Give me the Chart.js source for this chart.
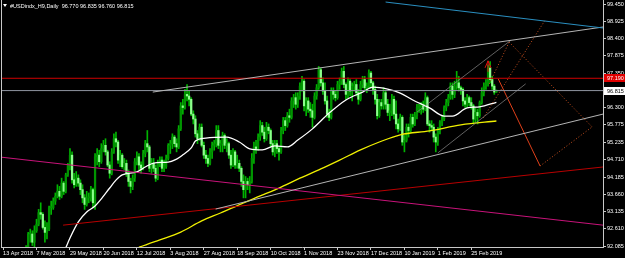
<!DOCTYPE html>
<html lang="en">
<head>
<meta charset="UTF-8">
<title>USDindx Daily</title>
<script src="https://cdn.jsdelivr.net/npm/chart.js"></script>
<style>
  html, body { margin: 0; padding: 0; background: #000; }
</style>
</head>
<body>
<canvas id="grafico" width="625" height="258"></canvas>
<script>
// first bar with data (13 Apr 2018 = bar 0); earlier bars sit below the visible range
const firstBar = 11;
const opens = [
  91.70, 92.05, 92.45, 92.45, 92.20, 92.55, 92.75, 93.10, 93.05, 92.65,
  92.50, 92.60, 93.25, 93.25, 93.45, 93.60, 93.75, 93.60, 94.00, 93.75,
  94.25, 94.55, 94.85, 94.10, 93.95, 94.15, 94.00, 93.80, 93.55, 93.35,
  93.55, 93.55, 93.80, 93.40, 94.80, 94.85, 94.65, 95.05, 95.15, 94.95,
  94.55, 94.30, 94.95, 95.35, 95.25, 94.70, 94.85, 94.50, 94.60, 94.30,
  94.05, 93.90, 94.15, 94.65, 94.80, 94.55, 94.45, 94.90, 95.20, 95.10,
  94.45, 94.60, 94.45, 94.15, 94.60, 94.70, 94.45, 94.50, 94.75, 95.15,
  95.20, 95.40, 95.20, 95.10, 95.65, 96.35, 96.30, 96.70, 96.65, 96.55,
  96.10, 95.95, 95.50, 95.35, 95.70, 95.15, 94.85, 94.75, 94.60, 94.95,
  95.15, 95.20, 95.60, 95.15, 95.20, 95.45, 95.15, 95.20, 94.85, 94.55,
  94.95, 94.55, 94.60, 94.45, 94.05, 93.80, 94.05, 93.95, 94.05, 94.75,
  95.10, 95.05, 95.40, 95.75, 95.55, 95.35, 95.70, 95.60, 95.20, 94.95,
  95.20, 95.05, 94.95, 95.60, 95.90, 95.75, 96.05, 96.00, 96.50, 96.60,
  96.40, 96.65, 96.95, 97.10, 96.35, 96.50, 96.25, 96.20, 96.00, 96.65,
  96.90, 97.45, 97.05, 96.80, 96.50, 96.10, 96.00, 96.80, 96.70, 96.60,
  97.00, 97.10, 97.40, 97.00, 96.70, 97.10, 96.80, 96.95, 97.00, 96.75,
  96.55, 97.00, 97.15, 96.90, 96.95, 97.35, 97.05, 96.85, 96.55, 96.05,
  96.45, 96.35, 96.75, 96.40, 96.15, 96.20, 96.55, 96.10, 95.80, 95.65,
  96.00, 95.25, 95.30, 95.70, 95.60, 96.00, 95.80, 96.05, 96.30, 96.30,
  96.35, 96.25, 96.60, 95.80, 95.75, 95.70, 95.40, 95.25, 95.60, 95.85,
  95.95, 96.30, 96.45, 96.60, 96.95, 96.70, 96.95, 97.05, 96.90, 96.85,
  96.50, 96.40, 96.60, 96.45, 96.35, 95.95, 96.15, 96.05, 96.45, 96.75,
  96.95, 97.05, 97.50, 97.15, 96.95, 96.77
];
const highs = [
  92.10, 92.50, 92.60, 92.55, 92.70, 92.90, 93.20, 93.40, 93.10, 92.85,
  92.80, 93.30, 93.45, 93.55, 93.70, 93.95, 93.90, 94.15, 94.05, 94.30,
  94.60, 95.05, 94.95, 94.30, 94.35, 94.25, 94.10, 93.95, 93.65, 93.75,
  93.70, 93.90, 93.85, 94.90, 95.05, 95.00, 95.20, 95.30, 95.35, 95.00,
  94.65, 95.05, 95.50, 95.55, 95.30, 95.00, 94.90, 94.75, 94.70, 94.40,
  94.15, 94.25, 94.75, 94.95, 94.90, 94.65, 95.00, 95.30, 95.60, 95.15,
  94.75, 94.75, 94.55, 94.70, 94.80, 94.80, 94.70, 94.85, 95.20, 95.30,
  95.50, 95.45, 95.35, 95.75, 96.45, 96.55, 96.85, 97.00, 96.80, 96.60,
  96.20, 96.05, 95.60, 95.80, 95.80, 95.25, 95.00, 94.85, 95.05, 95.25,
  95.30, 95.75, 95.75, 95.30, 95.55, 95.50, 95.35, 95.25, 95.00, 95.05,
  95.00, 94.85, 94.70, 94.50, 94.25, 94.20, 94.15, 94.20, 94.90, 95.25,
  95.30, 95.50, 95.90, 95.85, 95.70, 95.85, 95.80, 95.65, 95.30, 95.30,
  95.30, 95.10, 95.70, 96.00, 96.00, 96.15, 96.25, 96.60, 96.70, 96.75,
  96.75, 97.05, 97.25, 97.15, 96.60, 96.60, 96.45, 96.40, 96.75, 97.00,
  97.55, 97.50, 97.20, 97.05, 96.65, 96.25, 96.90, 96.90, 96.80, 97.10,
  97.20, 97.50, 97.55, 97.05, 97.20, 97.15, 97.05, 97.10, 97.15, 96.85,
  97.10, 97.25, 97.25, 97.05, 97.45, 97.40, 97.10, 96.95, 96.70, 96.55,
  96.55, 96.90, 96.80, 96.55, 96.40, 96.70, 96.65, 96.50, 95.95, 96.10,
  96.05, 95.45, 95.80, 95.80, 96.10, 96.10, 96.15, 96.40, 96.40, 96.45,
  96.50, 96.75, 96.65, 95.90, 95.90, 95.80, 95.50, 95.70, 95.90, 96.05,
  96.35, 96.55, 96.70, 97.05, 97.05, 97.10, 97.40, 97.25, 96.95, 96.90,
  96.60, 96.70, 96.65, 96.60, 96.40, 96.30, 96.25, 96.50, 96.90, 97.05,
  97.15, 97.60, 97.70, 97.25, 97.00, 96.835
];
const lows = [
  91.60, 91.90, 92.20, 92.10, 92.00, 92.50, 92.70, 92.90, 92.60, 92.20,
  92.30, 92.55, 93.05, 93.20, 93.35, 93.55, 93.50, 93.55, 93.65, 93.70,
  94.20, 94.40, 94.00, 93.85, 93.90, 93.90, 93.65, 93.40, 93.20, 93.30,
  93.40, 93.45, 93.25, 93.20, 94.55, 94.50, 94.60, 94.95, 94.85, 94.50,
  94.15, 94.25, 94.90, 95.10, 94.60, 94.50, 94.45, 94.40, 94.20, 93.90,
  93.70, 93.80, 94.05, 94.55, 94.40, 94.30, 94.40, 94.80, 94.95, 94.35,
  94.30, 94.35, 94.05, 94.10, 94.50, 94.35, 94.35, 94.45, 94.70, 94.90,
  95.05, 95.10, 94.95, 95.05, 95.60, 96.10, 96.25, 96.50, 96.35, 96.05,
  95.80, 95.40, 95.20, 95.30, 95.10, 94.75, 94.60, 94.50, 94.55, 94.75,
  95.00, 95.10, 95.05, 94.95, 94.95, 95.05, 94.95, 94.75, 94.45, 94.50,
  94.45, 94.45, 94.35, 93.90, 93.55, 93.55, 93.80, 93.70, 94.00, 94.60,
  94.90, 95.00, 95.30, 95.45, 95.25, 95.30, 95.50, 95.10, 94.85, 94.80,
  94.90, 94.70, 94.90, 95.50, 95.60, 95.70, 95.85, 95.95, 96.30, 96.25,
  96.30, 96.55, 96.80, 96.20, 96.05, 96.15, 96.00, 95.70, 95.95, 96.55,
  96.85, 96.95, 96.70, 96.40, 96.00, 95.90, 95.95, 96.55, 96.50, 96.55,
  96.85, 97.00, 96.90, 96.55, 96.60, 96.65, 96.50, 96.80, 96.65, 96.40,
  96.50, 96.90, 96.80, 96.75, 96.90, 96.90, 96.70, 96.40, 95.95, 96.00,
  96.25, 96.25, 96.25, 96.05, 95.90, 96.05, 95.95, 95.65, 95.55, 95.60,
  95.15, 94.95, 95.25, 95.40, 95.55, 95.70, 95.75, 95.95, 96.15, 96.10,
  96.15, 96.20, 95.75, 95.55, 95.60, 95.25, 94.95, 95.15, 95.50, 95.75,
  95.90, 96.20, 96.35, 96.55, 96.55, 96.60, 96.85, 96.80, 96.70, 96.35,
  96.30, 96.30, 96.35, 96.25, 95.80, 95.85, 95.80, 96.00, 96.40, 96.65,
  96.85, 96.95, 97.05, 96.85, 96.70, 96.76
];
const closes = [
  92.05, 92.45, 92.45, 92.20, 92.55, 92.75, 93.10, 93.05, 92.65, 92.50,
  92.60, 93.25, 93.25, 93.45, 93.60, 93.75, 93.60, 94.00, 93.75, 94.25,
  94.55, 94.85, 94.10, 93.95, 94.15, 94.00, 93.80, 93.55, 93.35, 93.55,
  93.55, 93.80, 93.40, 94.80, 94.85, 94.65, 95.05, 95.15, 94.95, 94.55,
  94.30, 94.95, 95.35, 95.25, 94.70, 94.85, 94.50, 94.60, 94.30, 94.05,
  93.90, 94.15, 94.65, 94.80, 94.55, 94.45, 94.90, 95.20, 95.10, 94.45,
  94.60, 94.45, 94.15, 94.60, 94.70, 94.45, 94.50, 94.75, 95.15, 95.20,
  95.40, 95.20, 95.10, 95.65, 96.35, 96.30, 96.70, 96.65, 96.55, 96.10,
  95.95, 95.50, 95.35, 95.70, 95.15, 94.85, 94.75, 94.60, 94.95, 95.15,
  95.20, 95.60, 95.15, 95.20, 95.45, 95.15, 95.20, 94.85, 94.55, 94.95,
  94.55, 94.60, 94.45, 94.05, 93.80, 94.05, 93.95, 94.05, 94.75, 95.10,
  95.05, 95.40, 95.75, 95.55, 95.35, 95.70, 95.60, 95.20, 94.95, 95.20,
  95.05, 94.95, 95.60, 95.90, 95.75, 96.05, 96.00, 96.50, 96.60, 96.40,
  96.65, 96.95, 97.10, 96.35, 96.50, 96.25, 96.20, 96.00, 96.65, 96.90,
  97.45, 97.05, 96.80, 96.50, 96.10, 96.00, 96.80, 96.70, 96.60, 97.00,
  97.10, 97.40, 97.00, 96.70, 97.10, 96.80, 96.95, 97.00, 96.75, 96.55,
  97.00, 97.15, 96.90, 96.95, 97.35, 97.05, 96.85, 96.55, 96.05, 96.45,
  96.35, 96.75, 96.40, 96.15, 96.20, 96.55, 96.10, 95.80, 95.65, 96.00,
  95.25, 95.30, 95.70, 95.60, 96.00, 95.80, 96.05, 96.30, 96.30, 96.35,
  96.25, 96.60, 95.80, 95.75, 95.70, 95.40, 95.25, 95.60, 95.85, 95.95,
  96.30, 96.45, 96.60, 96.95, 96.70, 96.95, 97.05, 96.90, 96.85, 96.50,
  96.40, 96.60, 96.45, 96.35, 95.95, 96.15, 96.05, 96.45, 96.75, 96.95,
  97.05, 97.50, 97.15, 96.95, 96.77, 96.815
];

// moving averages (bar index, value)
const whiteMaBar = [30, 32, 36, 40, 44, 47, 51, 54, 57, 64, 68, 72, 79, 83, 86, 90, 92, 97, 107, 113, 118, 124, 130, 136, 141, 148, 156, 164, 172, 177, 184, 190, 196, 204, 211, 215, 222, 228, 236];
const whiteMa = [92.03, 92.33, 92.82, 93.12, 93.30, 93.52, 93.85, 94.09, 94.25, 94.34, 94.49, 94.61, 94.64, 94.73, 94.86, 95.07, 95.28, 95.37, 95.40, 95.25, 95.04, 95.01, 95.13, 95.10, 95.31, 95.65, 96.13, 96.53, 96.77, 96.92, 96.86, 96.74, 96.53, 96.29, 96.04, 96.04, 96.29, 96.32, 96.46];
const yellowMaBar = [65, 75, 85, 95, 104, 114, 123, 133, 142, 152, 161, 171, 180, 190, 204, 219, 236];
const yellowMa = [92.05, 92.27, 92.51, 92.85, 93.09, 93.37, 93.61, 93.88, 94.15, 94.43, 94.70, 95.01, 95.25, 95.47, 95.59, 95.77, 95.89];

// hand drawn objects (bar index, price)
const trendLines = [
  { bars: [183, 287], prices: [99.51, 98.72], color: '#2a8fc0', width: 1 },
  { bars: [71.6, 287], prices: [96.77, 98.75], color: '#b4b4b4', width: 1 },
  { bars: [101.7, 287], prices: [93.21, 96.10], color: '#b4b4b4', width: 1 },
  { bars: [198, 243], prices: [96.16, 98.35], color: '#8a8a8a', width: 0.7 },
  { bars: [208, 250], prices: [94.92, 97.02], color: '#8a8a8a', width: 0.7 },
  { bars: [-1, 287], prices: [94.79, 92.72], color: '#c8137a', width: 1 },
  { bars: [28.7, 287], prices: [92.72, 94.49], color: '#b80000', width: 1 },
  { bars: [-1, 287], prices: [97.19, 97.19], color: '#d00000', width: 1 },
  { bars: [-1, 287], prices: [96.815, 96.815], color: '#8f94a0', width: 1 },
  { bars: [236.9, 256.9], prices: [97.17, 94.52], color: '#e0401a', width: 1 }
];
const dottedLines = [
  { bars: [256.9, 281.8], prices: [94.52, 95.71], color: '#c8501e' },
  { bars: [242.1, 281.8], prices: [98.29, 95.71], color: '#c8501e' },
  { bars: [232.6, 242.1], prices: [97.02, 98.29], color: '#c8501e' },
  { bars: [229.7, 259.3], prices: [95.98, 98.96], color: '#c8501e' }
];
// small red arrow mark over the latest swing high (bar, price)
const arrowMark = { bar: 232, price: 97.72 };

const dateBars = [0, 16, 32, 48, 64, 80, 96, 112, 128, 144, 160, 176, 192, 208, 224];
const dateLabels = ['13 Apr 2018', '7 May 2018', '29 May 2018', '20 Jun 2018', '12 Jul 2018', '3 Aug 2018', '27 Aug 2018', '18 Sep 2018', '10 Oct 2018', '1 Nov 2018', '23 Nov 2018', '17 Dec 2018', '10 Jan 2019', '1 Feb 2019', '25 Feb 2019'];
const priceTicks = [99.450, 98.925, 98.400, 97.875, 97.350, 96.300, 95.775, 95.235, 94.710, 94.185, 93.660, 93.135, 92.610, 92.085];

const titulo = '#USDindx_H9,Daily  96.770 96.835 96.760 96.815';

// candles: wick + body as floating bars
const wicks = [], bodies = [], bodyColors = [];
for (let k = 0; k < closes.length; k++) {
  const i = firstBar + k;
  wicks.push({ x: i, y: [lows[k], highs[k]] });
  bodies.push({ x: i, y: [opens[k], closes[k]] });
  bodyColors.push(closes[k] >= opens[k] ? '#009400' : '#8cff8c');
}

const datasets = [];
trendLines.forEach(function (t) {
  datasets.push({
    type: 'line', order: 1, borderColor: t.color, borderWidth: t.width,
    pointRadius: 0, data: [{ x: t.bars[0], y: t.prices[0] }, { x: t.bars[1], y: t.prices[1] }]
  });
});
dottedLines.forEach(function (t) {
  datasets.push({
    type: 'line', order: 1, borderColor: t.color, borderWidth: 1, borderDash: [1, 2],
    pointRadius: 0, data: [{ x: t.bars[0], y: t.prices[0] }, { x: t.bars[1], y: t.prices[1] }]
  });
});
datasets.push({
  type: 'line', order: 2, borderColor: '#ffffff', borderWidth: 1.3, pointRadius: 0,
  cubicInterpolationMode: 'monotone', data: whiteMaBar.map((b, j) => ({ x: b, y: whiteMa[j] }))
});
datasets.push({
  type: 'line', order: 2, borderColor: '#f0f000', borderWidth: 1.3, pointRadius: 0,
  cubicInterpolationMode: 'monotone', data: yellowMaBar.map((b, j) => ({ x: b, y: yellowMa[j] }))
});
datasets.push({
  type: 'bar', order: 5, data: bodies, backgroundColor: bodyColors,
  barThickness: 1.6, minBarLength: 1, grouped: false
});
datasets.push({
  type: 'bar', order: 6, data: wicks, backgroundColor: '#00b400',
  barThickness: 1, grouped: false
});

// frame, title, arrow and price boxes
const extras = {
  id: 'extras',
  afterDraw(chart) {
    const ctx = chart.ctx;
    const a = chart.chartArea;
    const x = chart.scales.x;
    const y = chart.scales.y;
    ctx.save();
    ctx.strokeStyle = '#c8c8c8';
    ctx.lineWidth = 1;
    ctx.beginPath();
    ctx.moveTo(1.5, 0);
    ctx.lineTo(1.5, a.bottom);
    ctx.stroke();

    // red arrow
    const ax = x.getPixelForValue(arrowMark.bar);
    const ay = y.getPixelForValue(arrowMark.price);
    ctx.strokeStyle = '#e01010';
    ctx.beginPath();
    ctx.moveTo(ax - 3, ay + 7); ctx.lineTo(ax, ay); ctx.lineTo(ax + 3, ay + 7);
    ctx.moveTo(ax, ay); ctx.lineTo(ax, ay + 11);
    ctx.stroke();

    ctx.fillStyle = '#ffffff';
    ctx.beginPath();
    ctx.moveTo(3, 4); ctx.lineTo(7, 4); ctx.lineTo(5, 7); ctx.closePath();
    ctx.fill();
    ctx.font = '5.5px "Liberation Sans"';
    ctx.textBaseline = 'middle';
    ctx.fillText(titulo, 10, 6);

    const boxes = [
      { v: 97.19, bg: '#e00000', fg: '#ffffff', txt: '97.190' },
      { v: 96.815, bg: '#ffffff', fg: '#000000', txt: '96.815' }
    ];
    boxes.forEach(function (b) {
      const py = Math.round(y.getPixelForValue(b.v));
      ctx.fillStyle = b.bg;
      ctx.fillRect(a.right + 1, py - 4, 21, 8);
      ctx.fillStyle = b.fg;
      ctx.font = '5.5px "Liberation Sans"';
      ctx.textAlign = 'left';
      ctx.fillText(b.txt, a.right + 4, py + 0.5);
    });
    ctx.restore();
  }
};

function noPad(scale) {
  scale.paddingLeft = 0;
  scale.paddingRight = 0;
  scale.paddingTop = 0;
  scale.paddingBottom = 0;
}

new Chart(document.getElementById('grafico'), {
  data: { datasets: datasets },
  options: {
    responsive: false,
    animation: false,
    events: [],
    layout: { padding: { left: 1, top: 0, right: 0, bottom: 0 } },
    plugins: { legend: { display: false }, tooltip: { enabled: false } },
    scales: {
      x: {
        type: 'linear', min: -1, max: 287, offset: false,
        afterFit(scale) { scale.height = 11; noPad(scale); },
        afterBuildTicks(scale) { scale.ticks = dateBars.map(v => ({ value: v })); },
        grid: { offset: false, drawOnChartArea: false, drawTicks: true, tickLength: 3, color: '#c8c8c8' },
        border: { display: true, color: '#c8c8c8' },
        ticks: {
          color: '#ffffff', font: { size: 5.5, family: 'Liberation Sans' },
          padding: 0, align: 'start', maxRotation: 0, autoSkip: false,
          callback: v => dateLabels[dateBars.indexOf(v)]
        }
      },
      y: {
        type: 'linear', position: 'right', min: 92.055, max: 99.572,
        afterFit(scale) { scale.width = 22; noPad(scale); },
        afterBuildTicks(scale) { scale.ticks = priceTicks.map(v => ({ value: v })); },
        grid: { drawOnChartArea: false, drawTicks: true, tickLength: 3, color: '#c8c8c8' },
        border: { display: true, color: '#c8c8c8' },
        ticks: {
          color: '#ffffff', font: { size: 5.5, family: 'Liberation Sans' },
          padding: 1, callback: v => v.toFixed(3)
        }
      }
    }
  },
  plugins: [extras]
});
</script>
</body>
</html>
